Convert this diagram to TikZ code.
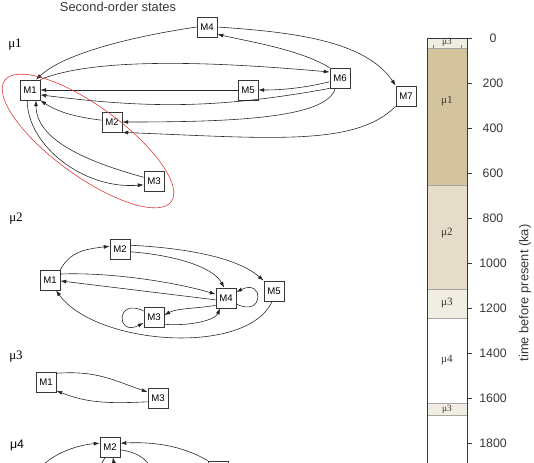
\documentclass[tikz,border=0pt]{standalone}
\usepackage{fontspec}
\setmainfont{Liberation Sans}
\newfontfamily\mufont{Liberation Serif}
\usepackage{xcolor}
\definecolor{barcafe}{RGB}{211,196,158}
\definecolor{barbeige}{RGB}{229,221,202}
\definecolor{barcrema}{RGB}{241,237,226}
\definecolor{grisoscuro}{RGB}{55,55,55}
\definecolor{rojoelipse}{RGB}{222,58,58}
\usetikzlibrary{arrows.meta, positioning}

\begin{document}
\begin{tikzpicture}[x=0.03cm, y=-0.03cm,
    estado/.style={rectangle, draw=grisoscuro, line width=0.65pt, minimum size=0.6cm, inner sep=0pt, font=\fontsize{8.2}{9}\selectfont},
    fase/.style={font=\mufont\fontsize{11}{12}\selectfont},
    fasebarra/.style={font=\mufont\fontsize{9.5}{11}\selectfont, text=grisoscuro},
    etiqueta/.style={font=\fontsize{10.5}{12}\selectfont, text=grisoscuro},
    arrow/.style={line width=0.5pt, ->, >={Latex[length=5pt,width=3.4pt]}, draw=black!85},
    tick/.style={line width=0.5pt, draw=grisoscuro}
]
    \clip (0,0) rectangle (534,462);

    % Titulo
    \node (titulo) [font=\fontsize{11}{13}\selectfont, text=grisoscuro] at (118,7) {Second-order states};

    % Etiquetas de fase
    \node (f1) [fase] at (15,45) {μ1};
    \node (f2) [fase] at (16,219) {μ2};
    \node (f3) [fase] at (16,357) {μ3};
    \node (f4) [font=\fontsize{10.5}{12}\selectfont] at (17,445) {μ4};

    % Nodos mu1
    \node (A1) [estado] at (30,90) {M1};
    \node (A2) [estado] at (112,122) {M2};
    \node (A3) [estado] at (154,181) {M3};
    \node (A4) [estado] at (207,27) {M4};
    \node (A5) [estado] at (248,90) {M5};
    \node (A6) [estado] at (340,78) {M6};
    \node (A7) [estado] at (406,96) {M7};

    % Conexiones mu1
    \draw [arrow] (A4.west) .. controls +(-55,8) and +(30,-28) .. (A1.60);
    \draw [arrow] (A4.east) .. controls +(75,5) and +(-30,-45) .. (A7.north west);
    \draw [arrow] (A6.north west) .. controls +(-30,-18) and +(35,8) .. (A4.-35);
    \draw [arrow] (A1.north east) .. controls +(60,-25) and +(-90,-8) .. (A6.150);
    \draw [arrow] (A6.200) .. controls +(-25,6) and +(25,0) .. (A5.east);
    \draw [arrow] (A5.west) -- (A1.east);
    \draw [arrow] (A6.south west) .. controls +(-110,20) and +(110,14) .. (A1.-25);
    \draw [arrow] (A6.-115) .. controls +(-8,30) and +(110,0) .. (A2.east);
    \draw [arrow] (A7.south west) .. controls +(-40,40) and +(150,6) .. (A2.south east);
    \draw [arrow] (A2.170) .. controls +(-25,-3) and +(18,12) .. (A1.-45);
    \draw [arrow] (A3.160) .. controls +(-55,-15) and +(0,40) .. (A1.-60);
    \draw [arrow] (A1.-105) .. controls +(0,45) and +(-60,5) .. (A3.200);

    % Elipse roja
    \draw [rojoelipse, line width=0.5pt, rotate around={-36:(88,141)}] (88,141) ellipse [x radius=3.09cm, y radius=1.05cm];

    % Nodos mu2
    \node (B1) [estado] at (50,280) {M1};
    \node (B2) [estado] at (120,249) {M2};
    \node (B3) [estado] at (154,317) {M3};
    \node (B4) [estado] at (226,298) {M4};
    \node (B5) [estado] at (274,291) {M5};

    % Conexiones mu2
    \draw [arrow] (B1.north east) .. controls +(10,-18) and +(-25,3) .. (B2.165);
    \draw [arrow] (B2.20) .. controls +(60,3) and +(-25,-22) .. (B5.north west);
    \draw [arrow] (B2.-15) .. controls +(40,3) and +(-12,-22) .. (B4.100);
    \draw [arrow] (B1.30) .. controls +(50,-2) and +(-40,-12) .. (B4.160);
    \draw [arrow] (B4.190) -- (B1.-5);
    \draw [arrow] (B4.-30) .. controls +(28,14) and +(28,-14) .. (B4.30);
    \draw [arrow] (B4.215) .. controls +(-15,3) and +(12,-7) .. (B3.10);
    \draw [arrow] (B3.-35) .. controls +(25,2) and +(-5,12) .. (B4.-120);
    \draw [arrow] (B3.150) .. controls +(-28,-14) and +(-28,14) .. (B3.210);
    \draw [arrow] (B5.-100) .. controls +(-25,55) and +(40,55) .. (B1.-60);

    % Nodos mu3
    \node (C1) [estado] at (46,382) {M1};
    \node (C3) [estado] at (158,398) {M3};

    % Conexiones mu3
    \draw [arrow] (C1.40) .. controls +(40,-3) and +(-35,-12) .. (C3.150);
    \draw [arrow] (C3.200) .. controls +(-40,2) and +(30,12) .. (C1.-40);

    % Nodos mu4 (cortados)
    \node (D2) [estado] at (110,447) {M2};
    \node (D5) [estado] at (218,471) {};
    \coordinate (D1) at (36,474);
    \coordinate (D3) at (152,482);
    \coordinate (D4) at (132,490);
    \coordinate (D6) at (92,480);

    % Conexiones mu4
    \draw [arrow] (D1) .. controls +(10,-18) and +(-25,2) .. (D2.160);
    \draw [arrow] (D5.north west) .. controls +(-20,-12) and +(40,-2) .. (D2.20);
    \draw [arrow] (D2.-15) .. controls +(20,3) and +(0,-20) .. (D3);
    \draw [arrow] (D4) .. controls +(-5,-15) and +(2,10) .. (D2.-75);
    \draw [arrow] (D2.-115) -- (D6);

    % Barra de tiempo
    \fill [barcrema] (427,38) rectangle (467,48);
    \fill [barcafe] (427,48) rectangle (467,185);
    \fill [barbeige] (427,185) rectangle (467,289);
    \fill [barcrema] (427,289) rectangle (467,318);
    \fill [barcrema] (427,403) rectangle (467,415);
    \foreach \y in {48,185,289,318,403,415}
        \draw [gray!70, line width=0.4pt] (427,\y) -- (467,\y);
    \draw [gray, line width=0.3pt] (433,45) -- (433,48) (461,45) -- (461,48);
    \draw [grisoscuro, line width=0.6pt] (427,470) -- (427,38) -- (467,38) -- (467,470);

    \node (b1) [fasebarra, font=\mufont\fontsize{8}{9}\selectfont] at (447,42.5) {μ3};
    \node (b2) [fasebarra] at (447,101) {μ1};
    \node (b3) [fasebarra] at (447,233) {μ2};
    \node (b4) [fasebarra] at (447,303) {μ3};
    \node (b5) [fasebarra] at (447,360) {μ4};
    \node (b6) [fasebarra, font=\mufont\fontsize{8}{9}\selectfont] at (447,409) {μ3};

    % Escala
    \foreach \t in {0,200,...,1800} {
        \draw [tick] (467,{38+0.225*\t}) -- ++(5,0);
        \node (t\t) [etiqueta] at (493,{38+0.225*\t}) {\t};
    }
    \node (eje) [etiqueta, rotate=90, font=\fontsize{11}{13}\selectfont] at (525,293) {time before present (ka)};
\end{tikzpicture}
\end{document}
